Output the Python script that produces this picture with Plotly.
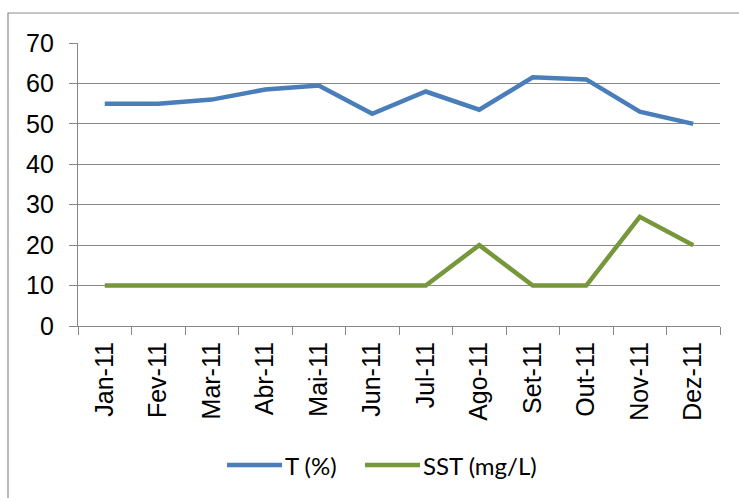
import plotly.graph_objects as go

# Monthly values for 2011
months = ["Jan-11", "Fev-11", "Mar-11", "Abr-11", "Mai-11", "Jun-11",
          "Jul-11", "Ago-11", "Set-11", "Out-11", "Nov-11", "Dez-11"]
t_pct = [55, 55, 56, 58.5, 59.5, 52.5, 58, 53.5, 61.5, 61, 53, 50]
sst_mgl = [10, 10, 10, 10, 10, 10, 10, 20, 10, 10, 27, 20]
series_names = ["T (%)", "SST (mg/L)"]

y_ticks = [0, 10, 20, 30, 40, 50, 60, 70]

BLUE = "#4a7ebb"
GREEN = "#77973b"
GRID = "#878787"
colors = [BLUE, GREEN]

fig = go.Figure()
for name, vals, col in zip(series_names, [t_pct, sst_mgl], colors):
    fig.add_trace(go.Scatter(x=months, y=vals, name=name, mode="lines",
                             line=dict(color=col, width=4.5), showlegend=False))

W, H = 739, 498
L, R, T, B = 78, 19, 43, 172
pw, ph = W - L - R, H - T - B

def px_to_paper_x(px):
    return (px - L) / pw

def px_to_paper_y(py):
    return (H - B - py) / ph

# Outer chart-area frame
fig.add_shape(type="rect", xref="paper", yref="paper",
              x0=px_to_paper_x(8), x1=px_to_paper_x(760),
              y0=px_to_paper_y(520), y1=px_to_paper_y(13),
              line=dict(color="#8c8c8c", width=1.2), fillcolor="rgba(0,0,0,0)",
              layer="below")

# Legend below the axis: line key followed by the series name
legend_y = px_to_paper_y(465)
key_starts = [227, 365]
for name, col, x0 in zip(series_names, colors, key_starts):
    fig.add_shape(type="line", xref="paper", yref="paper",
                  x0=px_to_paper_x(x0), x1=px_to_paper_x(x0 + 55),
                  y0=legend_y, y1=legend_y,
                  line=dict(color=col, width=4.5))
    fig.add_annotation(xref="paper", yref="paper",
                       x=px_to_paper_x(x0 + 56), y=legend_y,
                       xanchor="left", yanchor="middle", showarrow=False,
                       text=name, font=dict(family="Lato, sans-serif", size=24, color="#000"))

fig.update_layout(
    width=W, height=H,
    margin=dict(l=L, r=R, t=T, b=B, pad=0),
    paper_bgcolor="white", plot_bgcolor="white",
    font=dict(family="Liberation Sans, Arial, sans-serif", color="#000000", size=25),
    xaxis=dict(
        type="category", range=[-0.5, len(months) - 0.5],
        tickangle=-90, tickson="boundaries",
        ticks="outside", ticklen=8, tickwidth=1.2, tickcolor=GRID,
        showline=True, linecolor=GRID, linewidth=1.2,
        showgrid=False, zeroline=False,
        tickfont=dict(size=25),
        ticklabelstandoff=5,
    ),
    yaxis=dict(
        range=[0, 70], tickvals=y_ticks,
        ticks="outside", ticklen=8, tickwidth=1.2, tickcolor=GRID,
        showline=True, linecolor=GRID, linewidth=1.2,
        showgrid=True, gridcolor=GRID, gridwidth=1.2,
        zeroline=False,
        tickfont=dict(size=25),
        ticklabelstandoff=10,
    ),
    showlegend=False,
)

fig.write_html("out.html")
